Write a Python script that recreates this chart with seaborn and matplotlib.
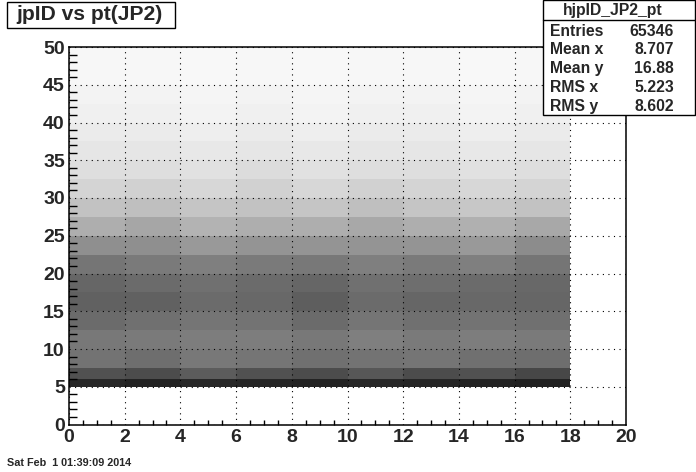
import numpy as np
import pandas as pd
import seaborn as sns
import matplotlib.pyplot as plt
from matplotlib.patches import Rectangle

# darkness of the dot cloud, binned, one row per y band
x_edges = [0, 2, 4, 6, 8, 10, 12, 14, 16, 18]
y_edges = [5, 6, 7.5, 10, 12.5, 15, 17.5, 20, 22.5, 25, 27.5, 30, 32.5, 35, 37.5, 40, 42.5, 45, 50]
density = [
    [0.84, 0.86, 0.84, 0.85, 0.86, 0.84, 0.85, 0.86, 0.87],
    [0.68, 0.70, 0.64, 0.68, 0.70, 0.66, 0.70, 0.68, 0.72],
    [0.55, 0.57, 0.53, 0.54, 0.56, 0.55, 0.54, 0.56, 0.57],
    [0.53, 0.52, 0.51, 0.51, 0.53, 0.50, 0.52, 0.51, 0.52],
    [0.58, 0.56, 0.54, 0.55, 0.58, 0.54, 0.56, 0.55, 0.56],
    [0.62, 0.62, 0.58, 0.59, 0.63, 0.58, 0.60, 0.59, 0.60],
    [0.60, 0.58, 0.56, 0.58, 0.60, 0.56, 0.57, 0.58, 0.59],
    [0.54, 0.52, 0.50, 0.52, 0.53, 0.50, 0.52, 0.50, 0.54],
    [0.44, 0.44, 0.40, 0.42, 0.42, 0.42, 0.42, 0.40, 0.45],
    [0.32, 0.35, 0.30, 0.32, 0.32, 0.34, 0.32, 0.31, 0.34],
    [0.24, 0.25, 0.23, 0.24, 0.23, 0.25, 0.23, 0.22, 0.24],
    [0.17, 0.18, 0.16, 0.18, 0.16, 0.18, 0.17, 0.16, 0.17],
    [0.13, 0.13, 0.12, 0.14, 0.12, 0.13, 0.13, 0.12, 0.13],
    [0.10, 0.10, 0.09, 0.10, 0.09, 0.10, 0.10, 0.09, 0.10],
    [0.08, 0.08, 0.07, 0.08, 0.07, 0.08, 0.08, 0.07, 0.08],
    [0.06, 0.06, 0.05, 0.06, 0.05, 0.06, 0.06, 0.05, 0.06],
    [0.05, 0.05, 0.04, 0.05, 0.04, 0.05, 0.05, 0.04, 0.05],
    [0.035, 0.035, 0.03, 0.035, 0.03, 0.035, 0.035, 0.03, 0.035],
]

stat_names = ['Entries', 'Mean x', 'Mean y', 'RMS x', 'RMS y']
stat_values = ['65346', '8.707', '16.88', '5.223', '8.602']

sns.set_style('white')
plt.rcParams['font.family'] = ['Liberation Sans', 'DejaVu Sans']
plt.rcParams['font.weight'] = 'bold'

x_mid = [(a + b) / 2 for a, b in zip(x_edges[:-1], x_edges[1:])]
y_mid = [(a + b) / 2 for a, b in zip(y_edges[:-1], y_edges[1:])]
rows = []
for j, y in enumerate(y_mid):
    for i, x in enumerate(x_mid):
        rows.append((x, y, density[j][i]))
data = pd.DataFrame(rows, columns=['pt', 'jpID', 'density'])

W, H = 696, 472
fig = plt.figure(figsize=(W / 100, H / 100), dpi=100)
ax = fig.add_axes([69 / W, 1 - 424.5 / H, (626 - 69) / W, (424.5 - 47) / H])

sns.histplot(data=data, x='pt', y='jpID', weights='density', bins=[x_edges, y_edges],
             cmap='binary', vmin=0, vmax=1, thresh=None, ax=ax)

ax.set_xlim(0, 20)
ax.set_ylim(0, 50)
ax.set_xlabel('')
ax.set_ylabel('')
ax.set_xticks(np.arange(0, 21, 2))
ax.set_yticks(np.arange(0, 51, 5))
ax.set_xticks(np.arange(0, 20.5, 0.5), minor=True)
ax.set_yticks(np.arange(0, 51, 1), minor=True)
ax.tick_params(axis='x', which='major', direction='in', length=8, width=1, labelsize=14, pad=3, color='k')
ax.tick_params(axis='x', which='minor', direction='in', length=3.6, width=1, color='k', bottom=True)
ax.tick_params(axis='y', which='major', direction='in', length=12, width=1, labelsize=14, pad=3, color='k')
ax.tick_params(axis='y', which='minor', direction='in', length=6, width=1, color='k', left=True)
ax.grid(True, which='major', color='k', linestyle=(0, (1, 4)), linewidth=0.8)
ax.set_axisbelow(False)
for s in ax.spines.values():
    s.set_color('k')
    s.set_linewidth(1.1)


def fx(px):
    return px / W


def fy(py):
    return 1 - py / H


# title box
fig.add_artist(Rectangle((fx(6.5), fy(28)), 168 / W, 26 / H, fc='w', ec='k', lw=1, zorder=5))
fig.text(fx(89.5), fy(15), 'jpID vs pt(JP2)', ha='center', va='center', fontsize=15.2, zorder=6)

# stats box
fig.add_artist(Rectangle((fx(543), fy(114.5)), 152 / W, 114.5 / H, fc='w', ec='k', lw=1, zorder=5))
fig.add_artist(plt.Line2D([fx(543), fx(695)], [fy(19.5), fy(19.5)], color='k', lw=1, zorder=6))
fig.text(fx(612.5), fy(10.5), 'hjpID_JP2_pt', ha='center', va='center', fontsize=11.3, zorder=6)
for i, (name, val) in enumerate(zip(stat_names, stat_values)):
    py = 31 + i * 18.9
    fig.text(fx(550), fy(py), name, ha='left', va='center', fontsize=11.3, zorder=6)
    fig.text(fx(674), fy(py), val, ha='right', va='center', fontsize=11.3, zorder=6)

fig.text(fx(6.5), fy(463.5), 'Sat Feb  1 01:39:09 2014', ha='left', va='center', fontsize=7.8)

fig.savefig('out.png', dpi=100)
